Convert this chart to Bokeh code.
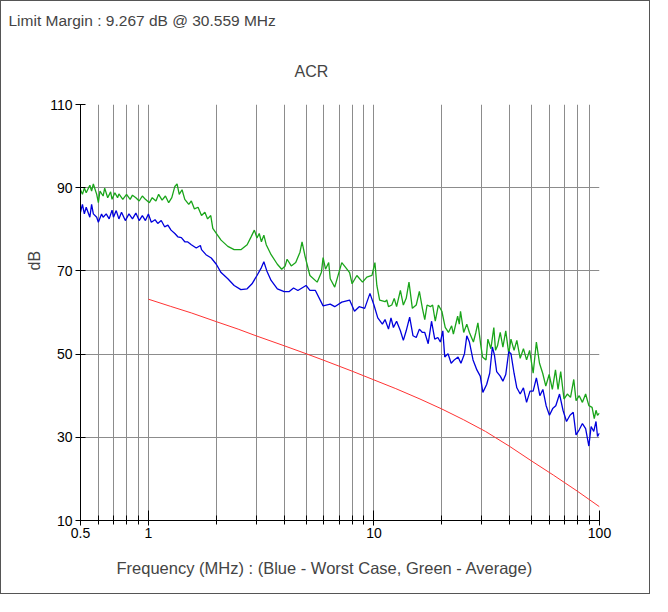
from bokeh.plotting import figure
from bokeh.models import FixedTicker, NumeralTickFormatter, Title
from bokeh.embed import file_html
from bokeh.resources import INLINE

# ---------------- data ----------------
green_freq = [0.50, 0.51, 0.52, 0.53, 0.55, 0.56, 0.57, 0.59, 0.60, 0.61, 0.63, 0.64, 0.66, 0.68,
              0.69, 0.71, 0.73, 0.74, 0.77, 0.80, 0.83, 0.85, 0.88, 0.91, 0.94, 0.97, 1.01, 1.04,
              1.08, 1.11, 1.15, 1.19, 1.23, 1.27, 1.31, 1.34, 1.37, 1.41, 1.45, 1.51, 1.55, 1.60,
              1.66, 1.72, 1.78, 1.83, 1.89, 1.93, 2.00, 2.10, 2.25, 2.40, 2.57, 2.74, 2.86, 2.95,
              3.03, 3.10, 3.17, 3.25, 3.33, 3.50, 3.73, 3.90, 4.04, 4.12, 4.30, 4.50, 4.70, 4.80,
              4.95, 5.20, 5.60, 5.85, 5.95, 6.10, 6.30, 6.40, 6.70, 7.20, 7.50, 7.80, 8.00, 8.40,
              8.90, 9.30, 9.80, 10.1, 10.3, 10.6, 11.2, 11.4, 11.6, 12.0, 12.3, 12.6, 13.1, 13.5,
              13.9, 14.3, 14.8, 15.4, 15.9, 16.4, 16.8, 17.2, 17.8, 18.2, 18.7, 19.3, 20.0, 20.7,
              21.4, 22.1, 22.5, 23.5, 23.9, 24.2, 25.0, 25.8, 26.5, 27.6, 28.3, 28.9, 29.7, 30.3,
              31.4, 32.0, 33.0, 34.0, 34.6, 35.3, 36.3, 37.3, 38.4, 39.6, 40.5, 41.8, 43.0, 44.5,
              46.0, 47.5, 49.0, 50.8, 52.5, 54.2, 56.0, 57.8, 59.8, 61.8, 63.8, 65.5, 67.3, 69.6,
              72.0, 74.4, 76.9, 78.7, 81.3, 84.0, 86.8, 89.7, 92.7, 94.8, 96.5, 98.0, 100.0]
green_db = [89.5, 88.4, 89.9, 88.8, 90.6, 89.2, 90.9, 88.4, 86.4, 89.2, 88.0, 89.9, 87.6, 89.0,
            87.2, 88.8, 87.6, 88.5, 87.2, 88.4, 87.2, 88.2, 87.6, 86.8, 88.0, 87.2, 86.4, 87.6,
            86.8, 88.4, 87.0, 88.0, 86.4, 87.6, 90.3, 90.9, 88.4, 89.5, 87.2, 86.0, 86.8, 84.9,
            85.3, 83.3, 84.1, 82.5, 83.3, 80.2, 79.0, 77.4, 75.9, 75.1, 75.1, 76.3, 78.3, 79.8,
            77.9, 79.0, 77.0, 78.6, 76.3, 73.9, 71.6, 70.4, 71.2, 72.8, 71.2, 72.0, 74.5, 77.0,
            73.5, 68.9, 67.3, 69.7, 73.2, 70.4, 72.0, 68.1, 66.1, 72.0, 70.8, 69.6, 66.9, 68.9,
            67.3, 68.5, 68.9, 72.0, 66.5, 63.0, 62.6, 63.0, 61.4, 61.8, 63.4, 61.4, 65.3, 61.8,
            63.4, 67.3, 61.0, 61.8, 65.1, 61.0, 58.3, 61.8, 61.4, 61.8, 57.9, 61.8, 60.3, 56.4,
            55.2, 56.8, 54.8, 59.1, 57.2, 60.3, 55.2, 57.2, 55.2, 52.9, 55.2, 57.5, 52.5, 49.3,
            48.6, 53.6, 51.3, 56.4, 50.9, 52.0, 55.2, 51.7, 55.6, 50.1, 53.6, 50.9, 53.3, 49.0,
            51.3, 48.6, 50.9, 45.4, 52.9, 47.8, 45.4, 42.3, 45.1, 41.5, 46.2, 41.5, 45.8, 39.2,
            40.4, 39.6, 43.9, 38.8, 40.0, 38.4, 40.4, 37.6, 37.2, 34.5, 36.5, 35.3, 35.8]

blue_freq = [0.50, 0.51, 0.52, 0.53, 0.55, 0.56, 0.57, 0.59, 0.60, 0.62, 0.63, 0.65, 0.67, 0.69,
             0.70, 0.72, 0.74, 0.76, 0.79, 0.82, 0.85, 0.88, 0.91, 0.94, 0.97, 1.00, 1.03, 1.07,
             1.10, 1.14, 1.18, 1.22, 1.26, 1.31, 1.35, 1.40, 1.45, 1.49, 1.55, 1.63, 1.70, 1.72,
             1.80, 1.90, 2.00, 2.10, 2.25, 2.40, 2.57, 2.74, 2.88, 3.03, 3.17, 3.25, 3.35, 3.50,
             3.73, 4.00, 4.20, 4.40, 4.60, 5.00, 5.20, 5.50, 5.95, 6.40, 6.70, 7.20, 7.80, 8.20,
             8.60, 9.10, 9.60, 10.0, 10.4, 10.9, 11.2, 11.6, 11.9, 12.2, 12.6, 13.1, 13.5, 13.9,
             14.4, 14.9, 15.4, 15.9, 16.4, 16.8, 17.4, 18.0, 18.6, 19.2, 19.7, 20.2, 20.6, 21.3,
             22.0, 22.7, 23.6, 24.3, 25.2, 25.8, 26.5, 27.5, 28.6, 29.6, 30.4, 31.6, 32.6, 33.5,
             34.2, 35.0, 36.3, 37.3, 38.4, 39.6, 40.5, 41.8, 43.0, 44.5, 46.0, 47.5, 49.2, 50.8,
             52.5, 54.4, 56.1, 58.0, 60.0, 62.0, 64.0, 66.5, 68.9, 71.4, 74.0, 76.5, 78.7, 81.3,
             84.0, 86.8, 89.7, 91.8, 94.3, 96.5, 98.0, 100.0]
blue_db = [84.1, 86.0, 83.7, 85.3, 82.9, 86.0, 83.7, 82.9, 81.7, 83.7, 82.9, 83.7, 82.5, 84.6,
           82.9, 84.5, 82.5, 84.1, 82.1, 83.7, 82.5, 83.9, 82.1, 83.3, 82.1, 83.7, 81.7, 82.3,
           81.4, 82.1, 80.6, 81.0, 79.8, 79.0, 78.2, 78.0, 77.0, 77.0, 76.3, 75.5, 76.1, 75.1,
           73.9, 73.1, 71.6, 69.6, 68.1, 66.5, 65.5, 65.7, 66.9, 68.9, 70.8, 72.2, 70.0, 67.7,
           65.7, 65.0, 65.0, 65.9, 65.3, 66.5, 65.3, 65.3, 61.6, 62.0, 61.4, 62.5, 63.0, 60.3,
           61.4, 61.0, 64.6, 61.8, 58.7, 57.2, 58.3, 56.0, 58.7, 56.4, 57.9, 55.6, 53.3, 55.6,
           58.9, 54.4, 54.0, 56.0, 55.2, 55.2, 52.5, 57.9, 53.6, 54.0, 52.9, 55.6, 49.3, 50.1,
           47.8, 48.6, 49.3, 47.8, 50.1, 54.4, 52.9, 48.6, 46.2, 44.7, 40.8, 42.7, 45.4, 51.7,
           49.8, 45.8, 44.7, 43.5, 45.1, 50.6, 50.1, 45.4, 41.9, 40.4, 41.9, 38.4, 41.1, 41.1,
           44.3, 40.0, 41.5, 37.6, 35.3, 36.9, 37.6, 40.4, 36.5, 33.8, 35.3, 36.0, 30.6, 31.8,
           33.3, 32.1, 27.9, 32.6, 31.4, 33.8, 30.2, 31.0]

limit_freq = [1, 1.25, 1.55, 2, 2.5, 3, 4, 5, 6, 8, 10, 12.5, 16, 20, 25, 31.25, 40, 50, 62.5, 80, 100]
limit_db = [63.2, 61.5, 59.9, 57.8, 56.0, 54.4, 52.0, 50.1, 48.5, 45.9, 43.8, 41.7, 39.2, 36.8,
            34.2, 31.4, 27.8, 24.3, 20.9, 17.0, 13.3]

x_major = [0.5, 1, 10, 100]
x_minor = [0.6, 0.7, 0.8, 0.9, 2, 3, 4, 5, 6, 7, 8, 9, 20, 30, 40, 50, 60, 70, 80, 90]
y_ticks = [10, 30, 50, 70, 90, 110]

title_text = "ACR"
margin_text = "Limit Margin : 9.267 dB @ 30.559 MHz"
x_label = "Frequency (MHz) : (Blue - Worst Case, Green - Average)"
y_label = "dB"

FONT = "Liberation Sans"
GRID = "#8c8c8c"

p = figure(width=650, height=594, x_axis_type="log", x_range=(0.5, 100), y_range=(10, 110),
           output_backend="svg", toolbar_location=None,
           min_border_left=79, min_border_right=52, min_border_top=103, min_border_bottom=75)
p.title.visible = False
p.outline_line_color = None
p.background_fill_color = "white"
p.border_fill_color = "white"
p.styles = {"border": "1px solid #555555"}

xt = FixedTicker(ticks=x_major, minor_ticks=x_minor)
yt = FixedTicker(ticks=y_ticks)
p.xaxis.ticker = xt
p.yaxis.ticker = yt
p.xgrid.ticker = xt
p.ygrid.ticker = yt
p.xaxis.formatter = NumeralTickFormatter(format="0.[0]")

for ax in (p.xaxis, p.yaxis):
    ax.axis_line_color = "black"
    ax.major_tick_line_color = "black"
    ax.minor_tick_line_color = "black"
    ax.major_label_text_font = FONT
    ax.major_label_text_font_size = "14px"
    ax.major_label_text_color = "black"
    ax.major_label_standoff = 3

p.xaxis.major_tick_in = 10
p.xaxis.major_tick_out = 5
p.xaxis.minor_tick_in = 5
p.xaxis.minor_tick_out = 4
p.xaxis.major_label_standoff = 2
p.yaxis.major_tick_in = 5
p.yaxis.major_tick_out = 5
p.yaxis.minor_tick_line_color = None

p.xgrid.grid_line_color = GRID
p.xgrid.minor_grid_line_color = GRID
p.ygrid.grid_line_color = GRID
p.ygrid.minor_grid_line_color = None

p.line(limit_freq, limit_db, line_color="#ff3333", line_width=1)
p.line(green_freq, green_db, line_color="#1aa51a", line_width=1.3)
p.line(blue_freq, blue_db, line_color="#0000dd", line_width=1.3)

p.add_layout(Title(text=title_text, align="left", offset=214, standoff=50,
                   text_font=FONT, text_font_size="16px", text_font_style="normal"), "above")
p.add_layout(Title(text=margin_text, align="left", offset=-72, standoff=14,
                   text_font=FONT, text_font_size="15.5px", text_font_style="normal"), "above")
p.add_layout(Title(text=x_label, align="left", offset=36, standoff=32,
                   text_font=FONT, text_font_size="16.5px", text_font_style="normal"), "below")
p.add_layout(Title(text=y_label, align="left", offset=250, standoff=10,
                   text_font=FONT, text_font_size="16px", text_font_style="normal"), "left")

open("out.html", "w").write(file_html(p, INLINE))
